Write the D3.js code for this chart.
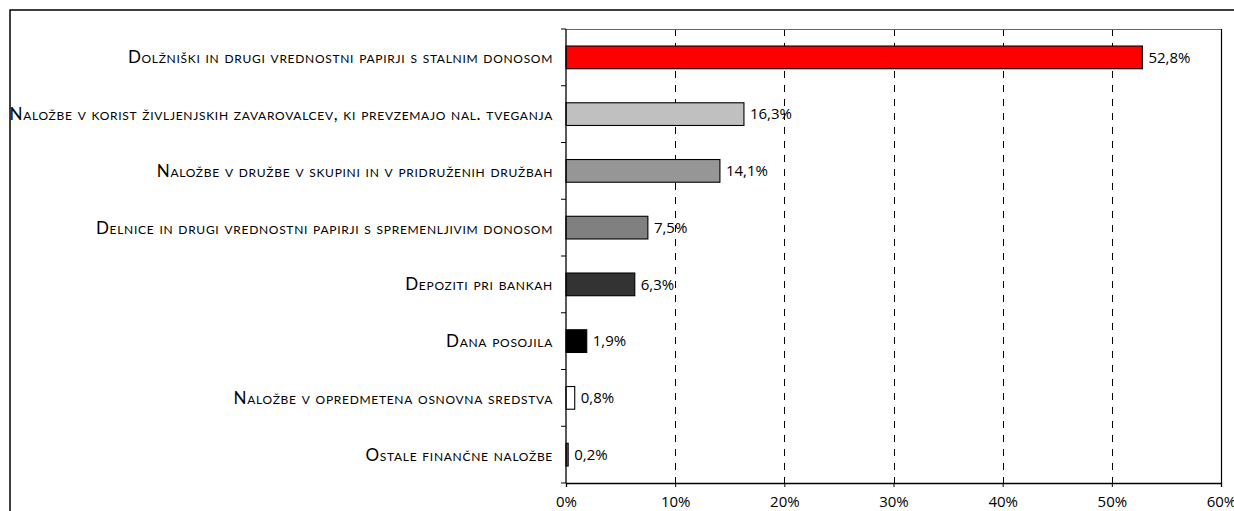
<!DOCTYPE html>
<html>
<head>
<meta charset="utf-8">
<script src="https://cdn.jsdelivr.net/npm/d3@7"></script>
<style>
  body { margin: 0; background: #fff; }
  svg { display: block; }
  .cat { font-family: "Lato", "Open Sans", sans-serif; font-variant: small-caps; font-size: 17px; letter-spacing: 0.7px; fill: #000; }
  .val, .tick text { font-family: "Open Sans", "DejaVu Sans", sans-serif; font-size: 15px; fill: #000; }
</style>
</head>
<body>
<div id="chart"></div>
<script>
/* DATA */
const categories = [
  "Dolžniški in drugi vrednostni papirji s stalnim donosom",
  "Naložbe v korist življenjskih zavarovalcev, ki prevzemajo nal. tveganja",
  "Naložbe v družbe v skupini in v pridruženih družbah",
  "Delnice in drugi vrednostni papirji s spremenljivim donosom",
  "Depoziti pri bankah",
  "Dana posojila",
  "Naložbe v opredmetena osnovna sredstva",
  "Ostale finančne naložbe"
];
const shares = [52.8, 16.3, 14.1, 7.5, 6.3, 1.9, 0.8, 0.2];
const xTicks = [0, 10, 20, 30, 40, 50, 60];
const barColors = ["#ff0000", "#c0c0c0", "#969696", "#808080", "#333333", "#000000", "#ffffff", "#c0504d"];

/* CONSTANTS */
const width = 1234;
const height = 511;
const margin = { top: 29, right: 13, bottom: 28, left: 566 };

const sl = d3.formatLocale({ decimal: ",", thousands: ".", grouping: [3], currency: ["", "€"] });
const fmtVal = sl.format(".1f");

const svg = d3.select("#chart")
  .append("svg")
  .attr("width", width)
  .attr("height", height);

// outer frame (runs off the picture on the right and bottom)
svg.append("rect")
  .attr("x", 10).attr("y", 10)
  .attr("width", width).attr("height", height)
  .attr("fill", "none")
  .attr("stroke", "#000")
  .attr("stroke-width", 1.5);

/* SCALES */
const xScale = d3.scaleLinear()
  .domain([0, 60])
  .range([margin.left, width - margin.right]);

const yScale = d3.scaleBand()
  .domain(categories)
  .range([margin.top, height - margin.bottom])
  .paddingInner(0.6)
  .paddingOuter(0.3);

const x0 = xScale(0), x1 = xScale(60);
const y0 = margin.top, y1 = height - margin.bottom;

// gridlines
svg.append("g")
  .selectAll("line")
  .data(xTicks.filter(d => d > 0 && d < 60))
  .join("line")
  .attr("x1", d => Math.round(xScale(d)) + 0.5)
  .attr("x2", d => Math.round(xScale(d)) + 0.5)
  .attr("y1", y0)
  .attr("y2", y1)
  .attr("stroke", "#000")
  .attr("stroke-dasharray", "7,7");

// plot border: top and right
svg.append("line")
  .attr("x1", x0).attr("x2", x1)
  .attr("y1", y0 + 0.5).attr("y2", y0 + 0.5)
  .attr("stroke", "#666");
svg.append("line")
  .attr("x1", Math.round(x1) + 0.5).attr("x2", Math.round(x1) + 0.5)
  .attr("y1", y0).attr("y2", y1)
  .attr("stroke", "#000")
  .attr("stroke-width", 1.2);

/* BARS */
svg.selectAll("rect.bar")
  .data(shares)
  .join("rect")
  .attr("class", "bar")
  .attr("x", x0)
  .attr("y", (d, i) => yScale(categories[i]))
  .attr("width", d => xScale(d) - x0)
  .attr("height", yScale.bandwidth())
  .attr("fill", (d, i) => barColors[i])
  .attr("stroke", "#000")
  .attr("stroke-width", 1.1);

svg.selectAll("text.val")
  .data(shares)
  .join("text")
  .attr("class", "val")
  .attr("x", d => xScale(d) + 6)
  .attr("y", (d, i) => yScale(categories[i]) + yScale.bandwidth() / 2)
  .attr("dy", "0.35em")
  .text(d => fmtVal(d) + "%");

/* AXES */
const xAxis = d3.axisBottom(xScale)
  .tickValues(xTicks)
  .tickFormat(d => d + "%")
  .tickSize(4)
  .tickPadding(9);

svg.append("g")
  .attr("transform", `translate(0,${y1})`)
  .call(xAxis)
  .call(g => g.select(".domain").attr("stroke-width", 1.3))
  .call(g => g.selectAll(".tick text").attr("font-family", null).attr("font-size", null));

// left axis: ticks at category boundaries
const boundaries = d3.range(categories.length + 1).map(i => y0 + i * yScale.step());
const yAxisG = svg.append("g");
yAxisG.append("line")
  .attr("x1", x0).attr("x2", x0)
  .attr("y1", y0).attr("y2", y1)
  .attr("stroke", "#000")
  .attr("stroke-width", 1.3);
yAxisG.selectAll("line.tk")
  .data(boundaries)
  .join("line")
  .attr("class", "tk")
  .attr("x1", x0 - 5).attr("x2", x0)
  .attr("y1", d => d).attr("y2", d => d)
  .attr("stroke", "#000");

svg.selectAll("text.cat")
  .data(categories)
  .join("text")
  .attr("class", "cat")
  .attr("x", 553)
  .attr("y", d => yScale(d) + yScale.bandwidth() / 2)
  .attr("dy", "0.35em")
  .attr("text-anchor", "end")
  .text(d => d);
</script>
</body>
</html>
